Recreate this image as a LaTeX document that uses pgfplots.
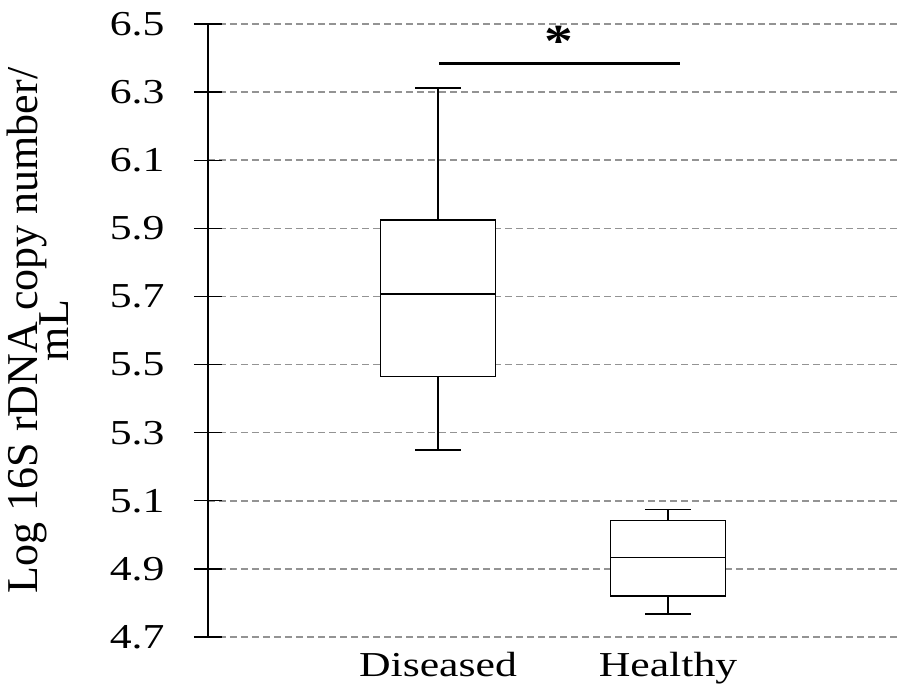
\documentclass[border=0pt]{standalone}
\usepackage{pgfplots}
\pgfplotsset{compat=1.18}
\usepackage{fontspec}
\setmainfont[FakeStretch=1.25]{Liberation Serif}
\newfontfamily\ylabfont{Liberation Serif}
\begin{document}
\begin{tikzpicture}
\begin{axis}[
  name=ax,
  scale only axis,
  width=690pt, height=613pt,
  xmin=0, xmax=3,
  ymin=4.7, ymax=6.5,
  axis lines*=left,
  x axis line style={draw=none},
  xtick={1,2},
  xticklabels={Diseased,Healthy},
  xtick style={draw=none},
  ytick={4.7,4.9,5.1,5.3,5.5,5.7,5.9,6.1,6.3,6.5},
  ytick style={black, line width=1.3pt},
  y axis line style={black, line width=1.3pt},
  tick align=center,
  major tick length=28pt,
  ymajorgrids,
  grid style={gray!85, line width=1.5pt, dash pattern=on 7pt off 4pt},
  /pgf/number format/assume math mode=true,
  yticklabel={\pgfmathprintnumber[fixed,fixed zerofill,precision=1]{\tick}},
  ticklabel style={font=\fontsize{35}{40}\selectfont},
  yticklabel style={xshift=-26pt},
  xticklabel style={yshift=2pt},
  ylabel={Log 16S rDNA copy number/\\[-9pt]mL},
  ylabel style={font=\ylabfont\fontsize{44}{40}\selectfont, align=center, at={(axis description cs:-0.197,0.5)}, anchor=south},
  clip=false,
]
% Diseased box (q1, q3)
\addplot[draw=black, fill=white, line width=1.6pt] coordinates {(0.75,5.465) (1.25,5.465) (1.25,5.925) (0.75,5.925)} -- cycle;
% Diseased median
\addplot[black, line width=1.4pt] coordinates {(0.75,5.707) (1.25,5.707)};
% Diseased whiskers
\addplot[black, line width=1.4pt] coordinates {(1,5.925) (1,6.312)};
\addplot[black, line width=1.4pt] coordinates {(0.9,6.312) (1.1,6.312)};
\addplot[black, line width=1.4pt] coordinates {(1,5.465) (1,5.249)};
\addplot[black, line width=1.4pt] coordinates {(0.9,5.249) (1.1,5.249)};
% Healthy box
\addplot[draw=black, fill=white, line width=1.6pt] coordinates {(1.75,4.820) (2.25,4.820) (2.25,5.042) (1.75,5.042)} -- cycle;
\addplot[black, line width=1.4pt] coordinates {(1.75,4.933) (2.25,4.933)};
\addplot[black, line width=1.4pt] coordinates {(2,5.042) (2,5.075)};
\addplot[black, line width=1.4pt] coordinates {(1.9,5.075) (2.1,5.075)};
\addplot[black, line width=1.4pt] coordinates {(2,4.820) (2,4.768)};
\addplot[black, line width=1.4pt] coordinates {(1.9,4.768) (2.1,4.768)};
% significance bar
\addplot[black, line width=3.3pt] coordinates {(1.004,6.385) (2.052,6.385)};
\node[font=\bfseries\fontsize{46}{46}\selectfont] at (axis cs:1.526,6.45) {*};
\end{axis}
\pgfresetboundingbox
\path ([xshift=-208pt,yshift=-58pt]ax.south west) rectangle ([yshift=24pt]ax.north east);
\end{tikzpicture}
\end{document}
